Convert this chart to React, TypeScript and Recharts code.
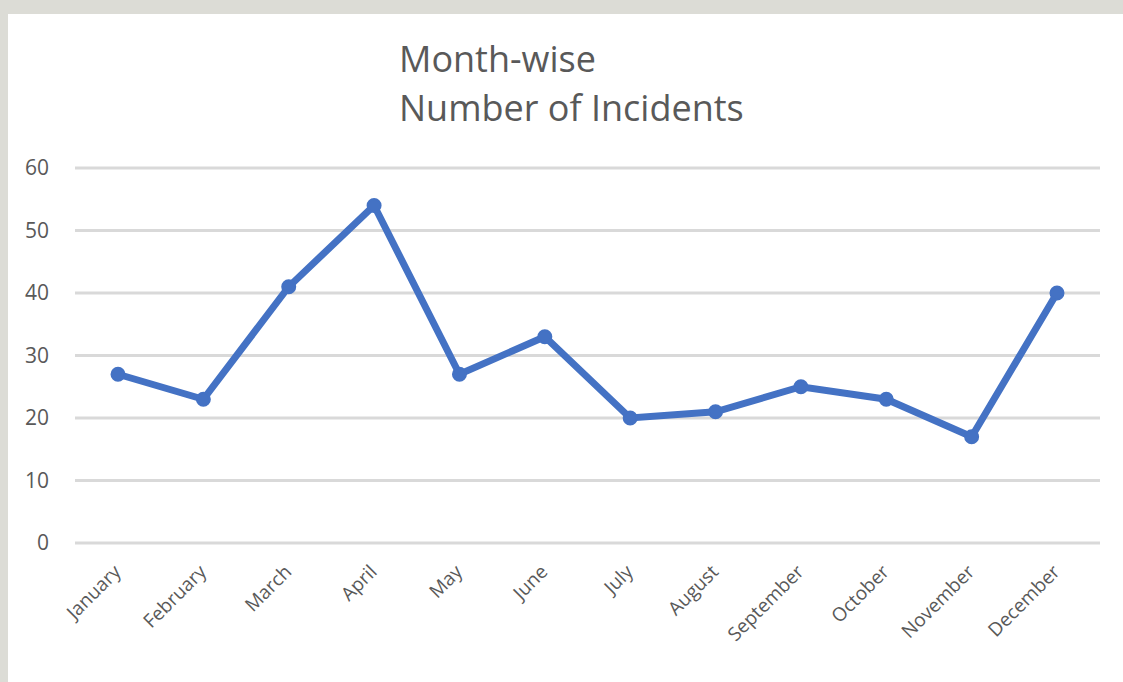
import React from "react";
import { CartesianGrid, Line, LineChart, XAxis, YAxis } from "recharts";

const months = [
  "January", "February", "March", "April", "May", "June",
  "July", "August", "September", "October", "November", "December",
];
const incidents = [27, 23, 41, 54, 27, 33, 20, 21, 25, 23, 17, 40];
const yTicks = [0, 10, 20, 30, 40, 50, 60];

const data = months.map((m, i) => ({ month: m, count: incidents[i] }));

const font = "'Open Sans', 'Liberation Sans', sans-serif";

function MonthTick(props: any) {
  const { x, y, payload } = props;
  return (
    <text
      x={x + 4}
      y={y + 22}
      transform={`rotate(-45, ${x + 4}, ${y + 22})`}
      textAnchor="end"
      fill="#595959"
      fontSize={19}
      fontFamily={font}
    >
      {payload.value}
    </text>
  );
}

export default function App() {
  return (
    <div style={{ position: "fixed", left: 0, top: 0, width: 1123, height: 682, background: "#dcdcd6", overflow: "hidden" }}>
      <div style={{ position: "absolute", left: 8, top: 14, right: 0, bottom: 0, background: "#fff" }} />
      <div
        style={{
          position: "absolute",
          left: 399,
          top: 34,
          fontFamily: font,
          fontSize: 36,
          lineHeight: "49px",
          color: "#595959",
        }}
      >
        Month-wise
        <br />
        Number of Incidents
      </div>
      <div style={{ position: "absolute", left: 0, top: 0 }}>
        <LineChart width={1123} height={682} data={data} margin={{ top: 168, right: 23, bottom: 39, left: 25 }}>
          <CartesianGrid vertical={false} stroke="#d9d9d9" strokeWidth={3} />
          <XAxis
            dataKey="month"
            axisLine={false}
            tickLine={false}
            tick={<MonthTick />}
            height={100}
            interval={0}
            padding={{ left: 43, right: 43 }}
          />
          <YAxis
            domain={[0, 60]}
            ticks={yTicks}
            axisLine={false}
            tickLine={false}
            width={50}
            tickMargin={20}
            tick={{ fill: "#595959", fontSize: 21, fontFamily: font }}
          />
          <Line
            dataKey="count"
            stroke="#4472c4"
            strokeWidth={7}
            dot={{ r: 6.5, fill: "#4472c4", stroke: "#4472c4", strokeWidth: 2 }}
            isAnimationActive={false}
          />
        </LineChart>
      </div>
    </div>
  );
}
